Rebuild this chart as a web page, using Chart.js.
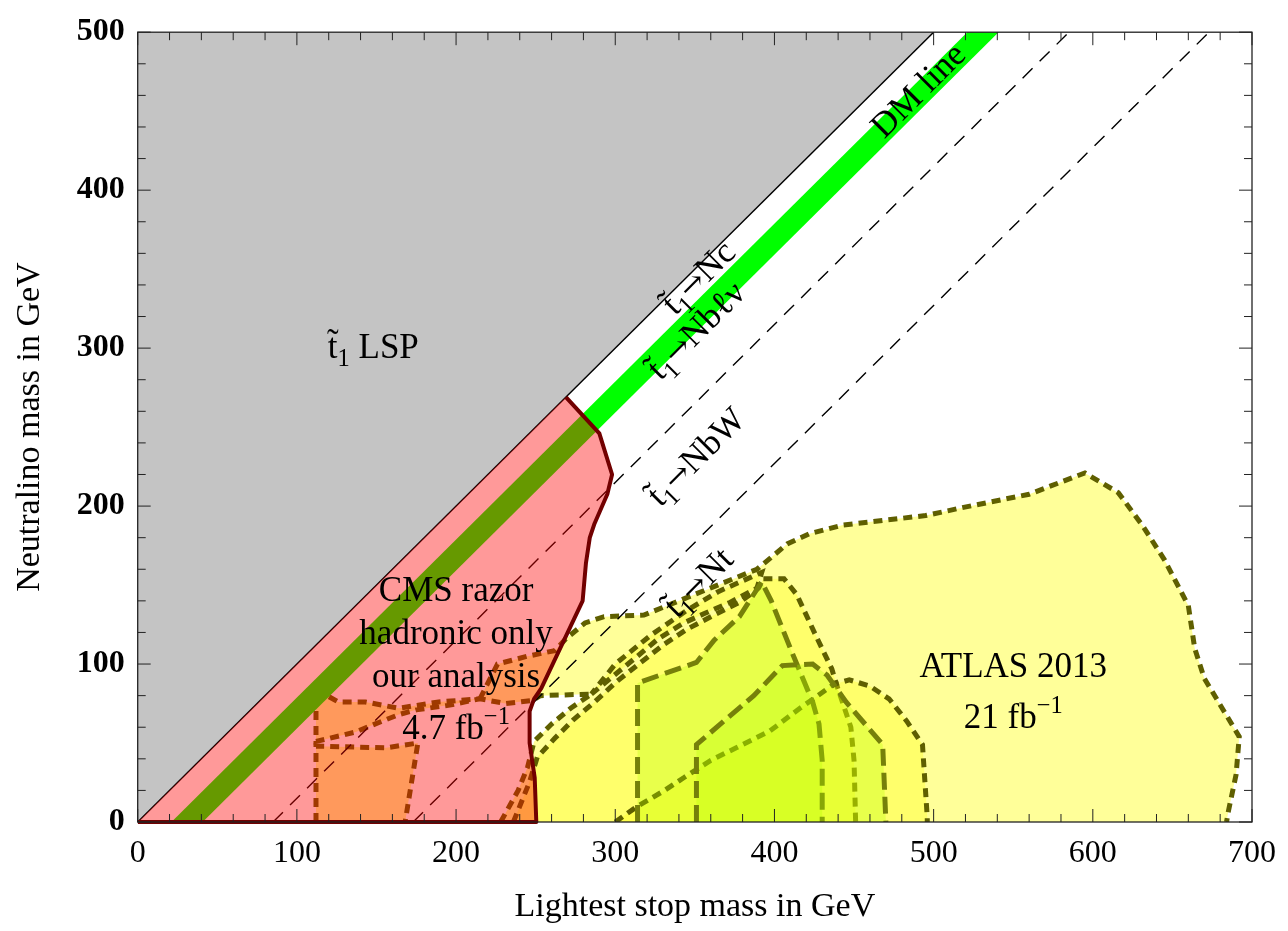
<!DOCTYPE html>
<html><head><meta charset="utf-8">
<script src="https://cdn.jsdelivr.net/npm/chart.js@4"></script>
<style>html,body{margin:0;padding:0;background:#fff}</style>
</head><body>
<canvas id="c" width="1288" height="931"></canvas>
<script>
// ---------- data (GeV) ----------
const xTickValues = [0, 100, 200, 300, 400, 500, 600, 700];
const yTickValues = [0, 100, 200, 300, 400, 500];

const lspX = [0, 0, 500, 0];
const lspY = [0, 500, 500, 0];

const dmX = [20, 541];
const dmY = [-11, 510];

const kinX = [0, 500];          // m_N = m_stop
const kinY = [0, 500];
const nbwX = [85, 585];         // m_stop - m_N = m_W + m_b
const nbwY = [0, 500];
const ntX = [173, 673];         // m_stop - m_N = m_t
const ntY = [0, 500];

const cmsX = [0, 269, 290, 298, 295, 287, 284, 281.6, 279.5, 253.5, 249, 246.2, 246.2, 249.4, 250.4, 0];
const cmsY = [0, 269, 246, 220, 207.5, 189, 180, 164, 140, 84.6, 78, 70, 50, 28, 0, 0];
const cmsEdgeX = [269, 290, 298, 295, 287, 284, 281.6, 279.5, 253.5, 249, 246.2, 246.2, 249.4, 250.4, 0];
const cmsEdgeY = [269, 246, 220, 207.5, 189, 180, 164, 140, 84.6, 78, 70, 50, 28, 0, 0];

const atlasAX = [215, 226, 245, 262, 269, 281, 293, 318, 362, 389, 408, 422, 443, 495, 518, 560, 595, 616, 631, 645, 660, 664, 670, 692, 690, 685, 684, 228, 239, 245, 249, 260, 272, 285, 253, 248, 231, 215];
const atlasAY = [78, 100, 105, 108.5, 116, 126, 130, 131, 149, 160, 176, 182.5, 188, 194, 199, 207.5, 221, 208.5, 188, 166, 137, 110, 91, 54, 30, 6, 0, 0, 20, 35, 51, 62, 72, 81, 80, 77, 75, 78];

const atlasSX = [236, 246, 251, 262, 274, 287, 301, 316, 330, 345, 362, 378, 390, 393, 406, 414, 426, 436, 439, 448, 450, 451, 236];
const atlasSY = [0, 25, 41, 53, 65, 76, 89, 101, 112, 122, 131, 139, 148, 154, 154, 144, 118, 97, 87, 60, 39, 0, 0];

const atlasWX = [285, 297, 314, 327, 343, 356, 372, 389, 392, 365, 345, 322, 300, 285];
const atlasWY = [81, 91, 105, 116, 126, 132, 139, 148, 158, 146, 134, 118, 100, 81];

const atlasTX = [300, 314, 331, 343, 360, 376, 397, 416, 437, 447, 460, 472, 483, 493, 496, 496, 300];
const atlasTY = [0, 10, 20, 28, 39, 47, 57.5, 72, 87, 90, 86, 78, 64, 49, 3, 0, 0];

const atlasQX = [314, 314, 351, 362, 378, 392, 398, 412, 424, 428, 430, 430, 314];
const atlasQY = [0, 88, 101, 115, 130, 152, 140, 105, 76, 62, 39, 0, 0];

const atlasPX = [351, 351, 387, 405, 424, 433, 445, 468, 470, 351];
const atlasPY = [0, 49, 80, 99, 100, 93, 76, 49, 0, 0];

const atlasX1X = [112, 112, 156, 176, 168, 112];
const atlasX1Y = [0, 48, 47, 50, 0, 0];

const atlasX2X = [112, 126, 143, 164, 189, 215, 196, 175, 164, 149, 137, 112, 112];
const atlasX2Y = [84, 76, 76, 72, 76, 78, 74, 71, 68, 62, 57, 51, 84];

// ---------- helpers ----------
const CF = '"Liberation Serif", "Times New Roman", serif';
const pts = (xs, ys) => xs.map((v, i) => ({x: v, y: ys[i]}));
// outline without the segments lying on the m_N = 0 axis (gap point)
function outline(xs, ys) {
  const out = [];
  for (let i = 0; i < xs.length; i++) {
    out.push({x: xs[i], y: ys[i]});
    if (i + 1 < xs.length && ys[i] === 0 && ys[i + 1] === 0) out.push({x: xs[i], y: null});
  }
  return out;
}
const OLIVE = '#5f5f00';
const OLIVE2 = '#76800a';
const YEL = 'rgba(255,255,0,0.4)';
const YEL2 = 'rgba(255,255,0,0.3)';
const LIME = 'rgba(180,255,0,0.3)';

function regionFill(xs, ys, fill) {
  return {data: pts(xs, ys), showLine: true, pointRadius: 0, fill: 'shape',
    backgroundColor: fill, borderWidth: 0, clip: 0};
}
function regionEdge(xs, ys, border, dash) {
  return {data: outline(xs, ys), showLine: true, spanGaps: false, pointRadius: 0, fill: false,
    borderColor: border, borderWidth: 5, borderDash: dash, clip: 0};
}
function line(xs, ys, color, width, dash) {
  return {data: pts(xs, ys), showLine: true, pointRadius: 0, fill: false,
    borderColor: color, borderWidth: width, borderDash: dash || [], clip: 0};
}
const SD = [9, 6], LD = [17, 7];

// bottom -> top
const layers = [
  {data: pts(lspX, lspY), showLine: true, pointRadius: 0, fill: 'shape', backgroundColor: '#c4c4c4', borderWidth: 0, clip: 0},
  regionFill(atlasX1X, atlasX1Y, YEL), regionEdge(atlasX1X, atlasX1Y, OLIVE, SD),
  regionFill(atlasX2X, atlasX2Y, YEL), regionEdge(atlasX2X, atlasX2Y, OLIVE, SD),
  regionFill(atlasAX, atlasAY, YEL), regionEdge(atlasAX, atlasAY, OLIVE, SD),
  regionFill(atlasSX, atlasSY, YEL2), regionEdge(atlasSX, atlasSY, OLIVE, SD),
  regionFill(atlasWX, atlasWY, YEL2), regionEdge(atlasWX, atlasWY, OLIVE, SD),
  regionFill(atlasTX, atlasTY, YEL2), regionEdge(atlasTX, atlasTY, OLIVE, SD),
  regionFill(atlasQX, atlasQY, LIME), regionEdge(atlasQX, atlasQY, OLIVE2, LD),
  regionFill(atlasPX, atlasPY, LIME), regionEdge(atlasPX, atlasPY, OLIVE2, LD),
  line(dmX, dmY, '#00ff00', 22),
  line(kinX, kinY, '#000', 1.4),
  line(nbwX, nbwY, '#000', 1.4, [14, 10]),
  line(ntX, ntY, '#000', 1.4, [14, 10]),
  {data: pts(cmsX, cmsY), showLine: true, pointRadius: 0, fill: 'shape', backgroundColor: 'rgba(255,0,0,0.4)', borderWidth: 0, clip: 0},
  {data: pts(cmsEdgeX, cmsEdgeY), showLine: true, pointRadius: 0, fill: false, borderColor: '#720000', borderWidth: 4, borderJoinStyle: 'round', clip: {left: 0, top: 0, right: 0, bottom: 3}}
];
layers.forEach((d, i) => { d.order = 100 - i; });

// ---------- annotation plugin ----------
const AF = '"DejaVu Serif", serif';
function segFont(size, s, fam) { return `${size * s}px ${fam || CF}`; }
function richWidth(ctx, segs, size) {
  let w = 0;
  for (const [t, s = 1, dy = 0, fam] of segs) { ctx.font = segFont(size, s, fam); w += ctx.measureText(t).width; }
  return w;
}
function drawRich(ctx, segs, size, cx, cy, rot, mid) {
  ctx.save();
  ctx.translate(cx, cy);
  ctx.rotate(rot);
  ctx.fillStyle = '#000';
  ctx.textAlign = 'left';
  ctx.textBaseline = 'alphabetic';
  const w = richWidth(ctx, segs, size);
  let x = -w / 2;
  const by = mid ? size * 0.33 : 0;
  for (const [t, s = 1, dy = 0, fam] of segs) {
    ctx.font = segFont(size, s, fam);
    ctx.fillText(t, x, by + dy * size);
    x += ctx.measureText(t).width;
  }
  ctx.restore();
}
const TT = 't\u0303';
const ARW = ['\u2192', 0.85, -0.02, AF];
const annotations = [
  {segs: [[TT], ['1', 0.7, 0.22], [' LSP']], x: 148, y: 301, rot: 0, mid: true},
  {segs: [['CMS razor']], x: 200, y: 140, rot: 0},
  {segs: [['hadronic only']], x: 200, y: 112.7, rot: 0},
  {segs: [['our analysis']], x: 200, y: 85.6, rot: 0},
  {segs: [['4.7 fb'], ['\u22121', 0.7, -0.42]], x: 200, y: 52.5, rot: 0},
  {segs: [['ATLAS 2013']], x: 550, y: 91.9, rot: 0},
  {segs: [['21 fb'], ['\u22121', 0.7, -0.42]], x: 550, y: 59.6, rot: 0},
  {segs: [[TT], ['1', 0.7, 0.22], ARW, ['Nc']], x: 352, y: 345, rot: -Math.PI / 4, mid: true},
  {segs: [[TT], ['1', 0.7, 0.22], ARW, ['Nb\u2113\u03bd']], x: 350.5, y: 311.5, rot: -Math.PI / 4, mid: true},
  {segs: [['DM line']], x: 490, y: 463.5, rot: -Math.PI / 4, mid: true},
  {segs: [[TT], ['1', 0.7, 0.22], ARW, ['NbW']], x: 350.5, y: 231.5, rot: -Math.PI / 4, mid: true},
  {segs: [[TT], ['1', 0.7, 0.22], ARW, ['Nt']], x: 352, y: 152, rot: -Math.PI / 4, mid: true}
];
const annotPlugin = {
  id: 'annot',
  afterDatasetsDraw(chart) {
    const {ctx, scales: {x, y}, chartArea: a} = chart;
    ctx.save();
    ctx.strokeStyle = '#222';
    ctx.lineWidth = 1.3;
    ctx.strokeRect(a.left, a.top, a.right - a.left, a.bottom - a.top);
    ctx.lineWidth = 1;
    ctx.beginPath();
    for (let v = 0; v <= 700; v += 20) {
      const p = x.getPixelForValue(v), L = v % 100 === 0 ? 13 : 8;
      ctx.moveTo(p, a.bottom); ctx.lineTo(p, a.bottom - L);
      ctx.moveTo(p, a.top); ctx.lineTo(p, a.top + L);
    }
    for (let v = 0; v <= 500; v += 20) {
      const p = y.getPixelForValue(v), L = v % 100 === 0 ? 13 : 8;
      ctx.moveTo(a.left, p); ctx.lineTo(a.left + L, p);
      ctx.moveTo(a.right, p); ctx.lineTo(a.right - L, p);
    }
    ctx.stroke();
    ctx.restore();
    for (const an of annotations) {
      drawRich(ctx, an.segs, 35, x.getPixelForValue(an.x), y.getPixelForValue(an.y), an.rot, an.mid);
    }
  }
};

new Chart(document.getElementById('c'), {
  type: 'scatter',
  data: {datasets: layers},
  options: {
    responsive: false,
    devicePixelRatio: 1,
    animation: false,
    events: [],
    layout: {padding: {left: 0, right: 30, top: 22, bottom: 0}},
    plugins: {legend: {display: false}, tooltip: {enabled: false}},
    scales: {
      x: {
        type: 'linear', min: 0, max: 700,
        afterBuildTicks: s => { s.ticks = xTickValues.map(v => ({value: v})); },
        ticks: {autoSkip: false, maxRotation: 0, color: '#000', padding: 12, font: {family: CF, size: 32}},
        grid: {display: false, drawTicks: false},
        border: {display: false},
        title: {display: true, text: 'Lightest stop mass in GeV', color: '#000', font: {family: CF, size: 34}, padding: {top: 0, bottom: 4}},
        afterFit: s => { s.height = 109; }
      },
      y: {
        type: 'linear', min: 0, max: 500,
        afterBuildTicks: s => { s.ticks = yTickValues.map(v => ({value: v})); },
        ticks: {autoSkip: false, color: '#000', padding: 13, font: {family: CF, size: 32, weight: 'bold'}},
        grid: {display: false, drawTicks: false},
        border: {display: false},
        title: {display: true, text: 'Neutralino mass in GeV', color: '#000', font: {family: CF, size: 34}, padding: {top: 10, bottom: 0}},
        afterFit: s => { s.width = 137.7; }
      }
    }
  },
  plugins: [annotPlugin]
});
</script>
</body></html>
